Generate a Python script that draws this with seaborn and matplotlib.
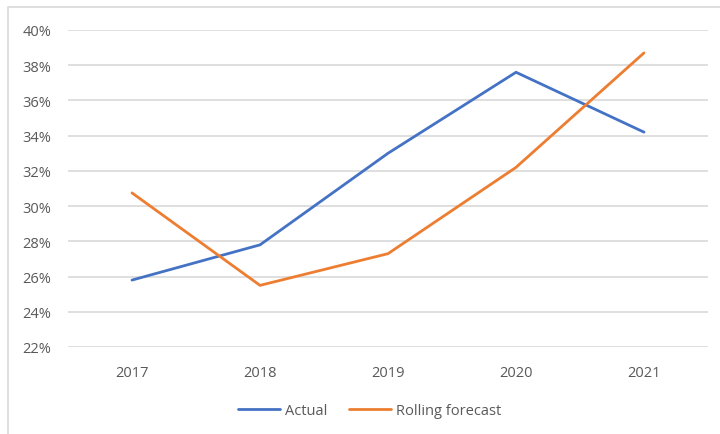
import matplotlib
matplotlib.use("Agg")
import matplotlib.pyplot as plt
import seaborn as sns
import pandas as pd
from matplotlib.patches import Rectangle
from matplotlib.ticker import FuncFormatter

years = ["2017", "2018", "2019", "2020", "2021"]
actual = [25.8, 27.8, 33.0, 37.6, 34.2]
rolling_forecast = [30.75, 25.5, 27.3, 32.2, 38.7]
series_names = ["Actual", "Rolling forecast"]
y_ticks = [22, 24, 26, 28, 30, 32, 34, 36, 38, 40]

df = pd.DataFrame({
    "Year": years * 2,
    "Value": actual + rolling_forecast,
    "Series": [series_names[0]] * len(years) + [series_names[1]] * len(years),
})

sns.set_theme(style="white")
plt.rcParams["font.family"] = ["Open Sans", "DejaVu Sans"]
text_color = "#595959"
grid_color = "#D9D9D9"

fig = plt.figure(figsize=(7.2, 4.35), dpi=100)
ax = fig.add_axes([68 / 720, 1 - 348 / 435, (708 - 68) / 720, (348 - 31) / 435])

sns.lineplot(
    data=df, x="Year", y="Value", hue="Series", sort=False,
    palette=["#4472C4", "#ED7D31"], linewidth=2.0, ax=ax, legend=True,
)

ax.set_xlim(-0.5, len(years) - 0.5)
ax.set_ylim(y_ticks[0], y_ticks[-1])
ax.set_yticks(y_ticks)
ax.yaxis.set_major_formatter(FuncFormatter(lambda v, _: f"{v:.0f}%"))
ax.yaxis.grid(True, color=grid_color, linewidth=1.2)
ax.xaxis.grid(False)
ax.set_axisbelow(True)
for s in ax.spines.values():
    s.set_visible(False)
ax.set_xlabel("")
ax.set_ylabel("")
ax.tick_params(axis="y", length=0, pad=12, labelsize=10.5, labelcolor=text_color)
ax.tick_params(axis="x", length=0, pad=13, labelsize=10.5, labelcolor=text_color)

handles, labels = ax.get_legend_handles_labels()
ax.legend_.remove()
fig.legend(
    handles, labels, loc="center", bbox_to_anchor=(0.513, 1 - 412 / 435),
    ncol=2, frameon=False, fontsize=10.5, labelcolor=text_color,
    handlelength=2.9, handletextpad=0.3, columnspacing=1.5,
)

# light chart-area border
fig.patches.append(Rectangle((8 / 720, -0.1), 1.2, 1 - 8 / 435 + 0.1,
                             transform=fig.transFigure, fill=False,
                             edgecolor=grid_color, linewidth=1.2))

fig.savefig("out.png", dpi=100, facecolor="white")
